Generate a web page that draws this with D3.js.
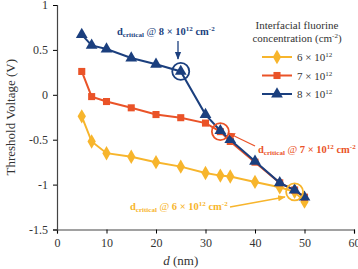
<!DOCTYPE html>
<html>
<head>
<meta charset="utf-8">
<script src="https://cdn.jsdelivr.net/npm/d3@7"></script>
<style>
  body { margin: 0; background: #fff; }
</style>
</head>
<body>
<div id="chart"></div>
<script>
/* CONSTANTS AND GLOBALS */
const width = 358,
  height = 269,
  margin = { top: 5, bottom: 39, left: 57, right: 4 },
  serif = "'Liberation Serif', 'Times New Roman', Times, serif";

// data
const d6 = [5, 7, 10, 15, 20, 25, 30, 33, 35, 40, 45, 48, 50];
const v6 = [-0.24, -0.52, -0.65, -0.69, -0.75, -0.8, -0.87, -0.9, -0.91, -0.97, -1.03, -1.08, -1.19];
const d7 = [5, 7, 10, 15, 20, 25, 30, 33, 35, 40, 45, 48, 50];
const v7 = [0.26, -0.02, -0.075, -0.145, -0.22, -0.255, -0.315, -0.41, -0.52, -0.75, -0.98, -1.06, -1.14];
const d8 = [5, 7, 10, 15, 20, 25, 30, 33, 35, 40, 45, 48, 50];
const v8 = [0.67, 0.55, 0.51, 0.41, 0.34, 0.26, -0.22, -0.4, -0.5, -0.74, -0.98, -1.06, -1.14];

const xTicks = [0, 10, 20, 30, 40, 50, 60];
const yTicks = [1, 0.5, 0, -0.5, -1, -1.5];

const series = [
  { name: "6", d: d6, v: v6, color: "#f7b52c", shape: d3.symbolDiamond, size: 60, crit: [48, -1.08] },
  { name: "7", d: d7, v: v7, color: "#ea5328", shape: d3.symbolSquare, size: 50, crit: [33, -0.41] },
  { name: "8", d: d8, v: v8, color: "#1b3f7e", shape: d3.symbolTriangle, size: 60, crit: [25, 0.26] }
];

const svg = d3.select("#chart").append("svg")
  .attr("width", width)
  .attr("height", height)
  .attr("font-family", serif);

// + SCALES
const xScale = d3.scaleLinear().domain([0, 60]).range([margin.left, 354]);
const yScale = d3.scaleLinear().domain([-1.5, 1]).range([229.5, margin.top]);

// + AXES
svg.append("g")
  .attr("transform", `translate(0,${yScale(-1.5)})`)
  .call(d3.axisBottom(xScale).tickValues(xTicks).tickSize(4).tickPadding(5).tickFormat(d3.format("d")))
  .attr("font-family", serif)
  .call(g => g.selectAll("text").attr("font-size", 12).attr("fill", "#333"))
  .call(g => g.select(".domain").attr("stroke", "#444").attr("stroke-width", 1.2));

svg.append("g")
  .attr("transform", `translate(${margin.left},0)`)
  .call(d3.axisLeft(yScale).tickValues(yTicks).tickSize(4).tickPadding(5).tickFormat(d => d))
  .attr("font-family", serif)
  .call(g => g.selectAll("text").attr("font-size", 12).attr("fill", "#333"))
  .call(g => g.select(".domain").attr("stroke", "#444").attr("stroke-width", 1.2));

// axis labels
svg.append("text")
  .attr("transform", `translate(15,${yScale(-0.25)}) rotate(-90)`)
  .attr("text-anchor", "middle")
  .attr("font-size", 13)
  .attr("fill", "#333")
  .text("Threshold Voltage (V)");

const xl = svg.append("text")
  .attr("x", xScale(25))
  .attr("y", 265)
  .attr("text-anchor", "middle")
  .attr("font-size", 13)
  .attr("fill", "#333");
xl.append("tspan").attr("font-style", "italic").text("d");
xl.append("tspan").text(" (nm)");

// + LINES AND MARKERS
const line = d3.line().x(p => xScale(p[0])).y(p => yScale(p[1]));

series.forEach(s => {
  const pts = s.d.map((d, i) => [d, s.v[i]]);
  svg.append("path")
    .attr("d", line(pts))
    .attr("fill", "none")
    .attr("stroke", s.color)
    .attr("stroke-width", 2);
  svg.selectAll(null)
    .data(pts)
    .join("path")
    .attr("transform", p => `translate(${xScale(p[0])},${yScale(p[1])})`)
    .attr("d", d3.symbol(s.shape, s.size))
    .attr("fill", s.color);
});

// critical circles
series.forEach(s => {
  svg.append("circle")
    .attr("cx", xScale(s.crit[0]))
    .attr("cy", yScale(s.crit[1]))
    .attr("r", 8.5)
    .attr("fill", "none")
    .attr("stroke", s.color)
    .attr("stroke-width", 1.8);
});

// arrowheads
const defs = svg.append("defs");
series.forEach(s => {
  defs.append("marker")
    .attr("id", "arr" + s.name)
    .attr("viewBox", "0 0 10 10")
    .attr("refX", 9).attr("refY", 5)
    .attr("markerWidth", 6).attr("markerHeight", 6)
    .attr("orient", "auto")
    .append("path")
    .attr("d", "M0,1 L10,5 L0,9 z")
    .attr("fill", s.color);
});

// annotations
function critLabel(x, y, s) {
  const t = svg.append("text")
    .attr("x", x).attr("y", y)
    .attr("font-size", 10.5)
    .attr("font-weight", "bold")
    .attr("fill", s.color);
  t.append("tspan").text("d");
  t.append("tspan").attr("font-size", 7).attr("dy", 2).text("critical");
  t.append("tspan").attr("dy", -2).attr("font-weight", "normal").text(" @ ");
  t.append("tspan").text(s.name + " \u00d7 10");
  t.append("tspan").attr("font-size", 7).attr("dy", -4).text("12");
  t.append("tspan").attr("dy", 4).text(" cm");
  t.append("tspan").attr("font-size", 7).attr("dy", -4).text("-2");
}

function arrow(x1, y1, x2, y2, s) {
  svg.append("line")
    .attr("x1", x1).attr("y1", y1).attr("x2", x2).attr("y2", y2)
    .attr("stroke", s.color)
    .attr("stroke-width", 1.3)
    .attr("marker-end", `url(#arr${s.name})`);
}

critLabel(117, 35, series[2]);
arrow(178, 41, 178, 59, series[2]);

critLabel(258, 153, series[1]);
arrow(255, 146, 228, 133, series[1]);

critLabel(130, 210, series[0]);
arrow(230, 207, 285, 197, series[0]);

// + LEGEND
const lg = svg.append("g");
lg.append("text")
  .attr("x", 297).attr("y", 29)
  .attr("text-anchor", "middle")
  .attr("font-size", 11)
  .attr("fill", "#333")
  .text("Interfacial fluorine");
const lt = lg.append("text")
  .attr("x", 297).attr("y", 42)
  .attr("text-anchor", "middle")
  .attr("font-size", 11)
  .attr("fill", "#333");
lt.append("tspan").text("concentration (cm");
lt.append("tspan").attr("font-size", 7).attr("dy", -4).text("-2");
lt.append("tspan").attr("dy", 4).text(")");

series.forEach((s, i) => {
  const y = 57 + i * 18.5;
  lg.append("line")
    .attr("x1", 262).attr("x2", 292).attr("y1", y).attr("y2", y)
    .attr("stroke", s.color).attr("stroke-width", 2);
  lg.append("path")
    .attr("transform", `translate(277,${y})`)
    .attr("d", d3.symbol(s.shape, s.size))
    .attr("fill", s.color);
  const t = lg.append("text")
    .attr("x", 297).attr("y", y + 4)
    .attr("font-size", 11)
    .attr("fill", "#333");
  t.append("tspan").text(s.name + " \u00d7 10");
  t.append("tspan").attr("font-size", 7).attr("dy", -4).text("12");
});
</script>
</body>
</html>
